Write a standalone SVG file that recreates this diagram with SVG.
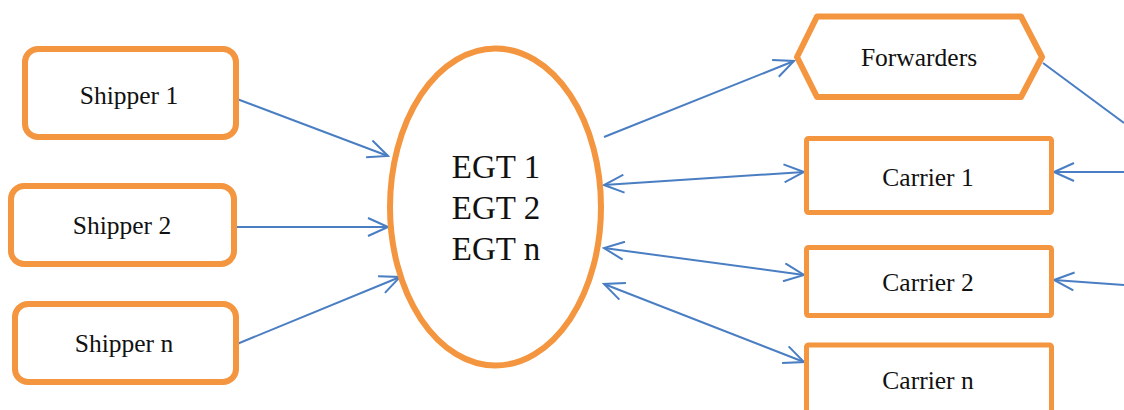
<svg xmlns="http://www.w3.org/2000/svg" width="1124" height="410" viewBox="0 0 1124 410">
  <style>
    .box { fill: #ffffff; stroke: #F4953F; stroke-width: 6; }
    .sq { fill: #ffffff; stroke: #F4953F; stroke-width: 5; }
    .lbl { font-family: "Liberation Serif", "Times New Roman", serif; font-size: 25.5px; fill: #111111; text-anchor: middle; }
    .big { font-family: "Liberation Serif", "Times New Roman", serif; font-size: 33px; fill: #111111; text-anchor: middle; }
    .link { fill: none; stroke: #4A7EC3; stroke-width: 2; }
  </style>
  <defs>
    <marker id="open" markerUnits="userSpaceOnUse" markerWidth="24" markerHeight="20" viewBox="-22 -10 24 20" refX="0" refY="0" orient="auto-start-reverse">
      <path d="M -20 -9 L 0 0 L -20 9" fill="none" stroke="#4A7EC3" stroke-width="2"/>
    </marker>
  </defs>

  <rect width="1124" height="410" fill="#ffffff"/>

  <!-- links -->
  <g id="connectors">
    <line class="link" x1="237" y1="99" x2="388" y2="156" marker-end="url(#open)"/>
    <line class="link" x1="237" y1="227" x2="388" y2="227" marker-end="url(#open)"/>
    <line class="link" x1="237" y1="344" x2="400" y2="277" marker-end="url(#open)"/>
    <line class="link" x1="604" y1="137" x2="794" y2="61" marker-end="url(#open)"/>
    <line class="link" x1="604" y1="185" x2="804" y2="172" marker-start="url(#open)" marker-end="url(#open)"/>
    <line class="link" x1="604" y1="248" x2="804" y2="275" marker-start="url(#open)" marker-end="url(#open)"/>
    <line class="link" x1="604" y1="284" x2="804" y2="362" marker-start="url(#open)" marker-end="url(#open)"/>
    <line class="link" x1="1043" y1="63" x2="1124" y2="123"/>
    <line class="link" x1="1124" y1="172" x2="1054" y2="172" marker-end="url(#open)"/>
    <line class="link" x1="1124" y1="285" x2="1054" y2="280" marker-end="url(#open)"/>
  </g>

  <g id="shipper1">
    <rect class="box" x="25" y="49" width="211" height="88" rx="13"/>
    <text class="lbl" x="129" y="104">Shipper 1</text>
  </g>
  <g id="shipper2">
    <rect class="box" x="11" y="186" width="223" height="78" rx="13"/>
    <text class="lbl" x="122" y="234">Shipper 2</text>
  </g>
  <g id="shipperN">
    <rect class="box" x="15" y="304" width="221" height="78" rx="13"/>
    <text class="lbl" x="124" y="352">Shipper n</text>
  </g>

  <g id="egt">
    <ellipse class="box" cx="495.5" cy="207" rx="105.5" ry="158.5"/>
    <text class="big" x="496" y="178">EGT 1</text>
    <text class="big" x="496" y="219">EGT 2</text>
    <text class="big" x="496" y="260">EGT n</text>
  </g>

  <g id="forwarders">
    <polygon class="box" points="797,57 817,16.5 1021,16.5 1042,57 1021,97 817,97" stroke-linejoin="round"/>
    <text class="lbl" x="919" y="66">Forwarders</text>
  </g>

  <g id="carrier1">
    <rect class="sq" x="806.5" y="138.5" width="245" height="74" rx="2"/>
    <text class="lbl" x="928" y="186">Carrier 1</text>
  </g>
  <g id="carrier2">
    <rect class="sq" x="806.5" y="247.5" width="245" height="68" rx="2"/>
    <text class="lbl" x="928" y="291">Carrier 2</text>
  </g>
  <g id="carrierN">
    <rect class="sq" x="806.5" y="345" width="245" height="70" rx="2"/>
    <text class="lbl" x="928" y="389">Carrier n</text>
  </g>
</svg>
